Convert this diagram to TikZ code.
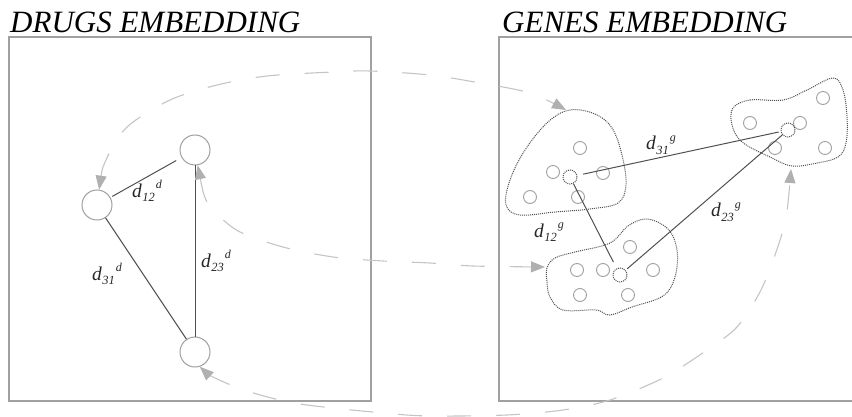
\documentclass[tikz,border=0pt]{standalone}
\usepackage{fontspec}
\setmainfont{Liberation Serif}
\usetikzlibrary{arrows.meta}
\definecolor{boxgray}{HTML}{A0A0A0}
\definecolor{dashgray}{HTML}{C4C4C4}
\definecolor{arrgray}{HTML}{B0B0B0}
\definecolor{linegray}{HTML}{505050}
\definecolor{circgray}{HTML}{A0A0A0}
\newcommand\dlab[2]{\fontsize{19.5}{19.5}\selectfont\itshape d\kern0.3pt\raisebox{-4.5pt}{\fontsize{12.5}{12.5}\selectfont #1}\kern1pt\raisebox{8.5pt}{\fontsize{12}{12}\selectfont #2}}
\begin{document}
\begin{tikzpicture}[x=1pt,y=-1pt,
  panel/.style={draw=boxgray, line width=1.2pt},
  drug/.style={circle, draw=circgray, line width=1pt, minimum size=30pt, inner sep=0pt},
  gene/.style={circle, draw=circgray, line width=0.9pt, minimum size=13pt, inner sep=0pt},
  centroid/.style={circle, draw=linegray, densely dotted, line width=1pt, minimum size=14pt, inner sep=0pt},
  blob/.style={draw=linegray, densely dotted, line width=1pt},
  dist/.style={draw=linegray, line width=1pt},
  link/.style={draw=dashgray, line width=1.1pt, dash pattern=on 24pt off 25pt,
    {Triangle[length=14pt,width=11pt,fill=arrgray,color=arrgray]}-{Triangle[length=14pt,width=11pt,fill=arrgray,color=arrgray]}},
  title/.style={font=\fontsize{31}{31}\selectfont\itshape, anchor=base west, inner sep=0pt},
  lab/.style={anchor=base west, inner sep=0pt, text=black!85}
]
\useasboundingbox (0,0) rectangle (852,417);
\clip (0,0) rectangle (852,417);

% titles
\node[title] (t1) at (10,33) {DRUGS EMBEDDING};
\node[title] (t2) at (502,33) {GENES EMBEDDING};

% panels
\draw[panel] (9,37) rectangle (371,401);
\draw[panel] (870,37) -- (499,37) -- (499,401) -- (870,401);

% drugs
\node[drug] (d1) at (97,205) {};
\node[drug] (d2) at (195,150) {};
\node[drug] (d3) at (195,352) {};
\draw[dist, shorten >=6pt, shorten <=2pt] (d1) -- (d2);
\draw[dist] (d1) -- (d3);
\draw[dist] (d3) -- (d2);
\node[lab] (l12d) at (132,197) {\dlab{12}{d}};
\node[lab] (l31d) at (92,280) {\dlab{31}{d}};
\node[lab] (l23d) at (201,267) {\dlab{23}{d}};

% gene clusters
\draw[blob] plot[smooth cycle, tension=0.6] coordinates {(570,110) (595,114) (612,128) (622,155) (626,185) (618,203) (590,209) (555,212) (520,215) (506,205) (510,180) (525,150) (548,122)};
\draw[blob] plot[smooth cycle, tension=0.6] coordinates {(547,268) (555,258) (575,252) (610,243) (628,226) (647,219) (668,229) (677,250) (675,277) (663,296) (632,307) (610,315) (596,310) (563,310) (550,297) (547,282)};
\draw[blob] plot[smooth cycle, tension=0.6] coordinates {(733,108) (750,100) (783,100) (807,90) (833,78) (843,90) (847,117) (846,143) (838,157) (817,163) (792,166) (770,157) (742,142) (732,125)};

\node[gene] (g11) at (580,148) {};
\node[gene] (g12) at (553,172) {};
\node[gene] (g13) at (603,173) {};
\node[gene] (g14) at (530,197) {};
\node[gene] (g15) at (578,197) {};
\node[centroid] (c1) at (570,177) {};

\node[gene] (g21) at (577,270) {};
\node[gene] (g22) at (603,270) {};
\node[gene] (g23) at (630,247) {};
\node[gene] (g24) at (653,270) {};
\node[gene] (g25) at (580,295) {};
\node[gene] (g26) at (628,295) {};
\node[centroid] (c2) at (620,275) {};

\node[gene] (g31) at (750,123) {};
\node[gene] (g32) at (800,123) {};
\node[gene] (g33) at (823,98) {};
\node[gene] (g34) at (775,148) {};
\node[gene] (g35) at (825,148) {};
\node[centroid] (c3) at (788,130) {};

\draw[dist, shorten <=6pt, shorten >=2pt] (c1) -- (c3);
\draw[dist, shorten >=7pt] (c1) -- (c2);
\draw[dist, shorten <=2pt] (c2) -- (c3);
\node[lab] (l31g) at (646,150) {\dlab{31}{g}};
\node[lab] (l12g) at (534,237) {\dlab{12}{g}};
\node[lab] (l23g) at (711,217) {\dlab{23}{g}};

% correspondence arcs
\coordinate (c1in) at (566,110);
\coordinate (c2in) at (545,267);
\coordinate (c3in) at (791,169);
\draw[link] plot[smooth] coordinates {(d1.82) (106,160) (127,127) (170,100) (217,85) (267,76) (333,72) (370,71) (430,75) (480,83) (530,93) (c1in)};
\draw[link] plot[smooth] coordinates {(d2.-80) (206,200) (218,215) (240,232) (283,247) (333,257) (383,261) (430,263) (473,266) (c2in)};
\draw[link] plot[smooth] coordinates {(d3.-72) (215,378) (250,392) (300,404) (383,413) (430,416) (507,415) (563,410) (610,400) (663,378) (707,350) (737,327) (760,292) (775,255) (786,218) (c3in)};
\end{tikzpicture}
\end{document}
